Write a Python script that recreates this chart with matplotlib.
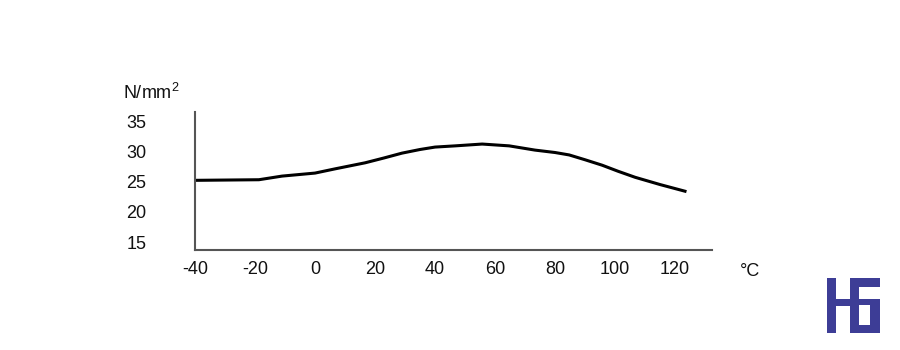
import matplotlib
matplotlib.use("Agg")
import matplotlib.pyplot as plt
from matplotlib.patches import Rectangle

plt.rcParams['font.family'] = ['Liberation Sans', 'DejaVu Sans']
plt.rcParams['axes.unicode_minus'] = False

# tensile strength vs temperature
temps = [-40, -18.7, -11, 0, 6.7, 16.7, 23, 29, 35, 40, 46.7, 55.7, 64.7, 73.3,
         80, 84.7, 90, 95.7, 101, 106.7, 115, 123.3]
strength = [25.2, 25.3, 25.9, 26.4, 27.1, 28.1, 28.9, 29.7, 30.3, 30.7, 30.9, 31.2,
            30.9, 30.2, 29.8, 29.4, 28.6, 27.7, 26.7, 25.7, 24.5, 23.4]

x_ticks = [-40, -20, 0, 20, 40, 60, 80, 100, 120]
y_ticks = [15, 20, 25, 30, 35]

fig = plt.figure(figsize=(9, 3.5), dpi=100)
ax = fig.add_axes([195 / 900, 1 - 250 / 350, (712 - 195) / 900, (250 - 112) / 350])

ax.plot(temps, strength, color='black', lw=2.2, solid_joinstyle='round')

ax.set_xlim(-40, 132.3)
ax.set_ylim(13.68, 36.5)
ax.set_xticks(x_ticks)
ax.set_yticks(y_ticks)
ax.tick_params(length=0, labelsize=13, colors='#111111')
ax.tick_params(axis='y', pad=35)
ax.tick_params(axis='x', pad=8)

for s in ['top', 'right']:
    ax.spines[s].set_visible(False)
for s in ['left', 'bottom']:
    ax.spines[s].set_color('#555555')
    ax.spines[s].set_linewidth(1.5)

fig.text(123 / 900, 1 - 93 / 350, 'N/mm$^{\\mathregular{2}}$', fontsize=13, va='center',
         ha='left', color='#111111')
fig.text(750 / 900, 1 - 271 / 350, '°C', fontsize=13, va='center', ha='center',
         color='#111111')

# logo in the corner
navy = '#3d3d96'
H = 350
blocks = [
    (827, 278, 9, 55),   # H left bar
    (836, 299, 14, 7),   # crossbar
    (850, 278, 9, 55),   # 6 left bar
    (859, 278, 21, 9),   # 6 top
    (870, 299, 10, 34),  # 6 right
    (859, 299, 11, 6),   # 6 middle
    (859, 325, 11, 8),   # 6 bottom
]
for x0, y0, w, h in blocks:
    fig.patches.append(Rectangle((x0 / 900, 1 - (y0 + h) / H), w / 900, h / H,
                                 transform=fig.transFigure, color=navy, lw=0))

fig.savefig('out.png', dpi=100)
